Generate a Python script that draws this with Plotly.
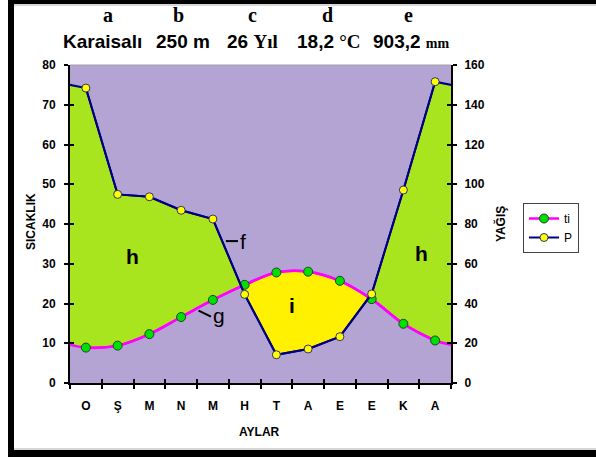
import plotly.graph_objects as go

# ---- data ----
months = ["O", "Ş", "M", "N", "M", "H", "T", "A", "E", "E", "K", "A"]
temp = [8.9, 9.4, 12.3, 16.6, 20.9, 24.7, 27.8, 28.0, 25.7, 21.1, 14.9, 10.7]
precip = [148.4, 94.9, 93.7, 86.9, 82.5, 44.6, 14.2, 17.1, 23.3, 44.8, 97.1, 151.6]
header_letters = ["a", "b", "c", "d", "e"]
station = "Karaisalı"
elevation = "250"
years = "26"
mean_temp = "18,2"
total_precip = "903,2"

PURPLE = "#B3A4D4"
GREEN = "#A9E51F"
YELLOW = "#FFF100"
MAGENTA = "#FF00FF"
NAVY = "#000080"

n = len(months)
xs = list(range(n))
# wrap around (climate year is cyclic)
xw = [-1] + xs + [n]
tw = [temp[-1]] + temp + [temp[0]]
pw = [precip[-1]] + precip + [precip[0]]
ph = [p / 2 for p in pw]  # precipitation on temperature scale


def crossings(x, a, b):
    out = []
    for i in range(len(x) - 1):
        d0 = a[i] - b[i]
        d1 = a[i + 1] - b[i + 1]
        if d0 * d1 < 0:
            t = d0 / (d0 - d1)
            out.append((x[i] + t * (x[i + 1] - x[i]),
                        b[i] + t * (b[i + 1] - b[i]),
                        a[i] + t * (a[i + 1] - a[i]), i))
    return out


cr = crossings(xw, ph, tw)
# dry period segment (temperature above precipitation/2)
c1, c2 = cr[0], cr[1]
seg_idx = list(range(c1[3] + 1, c2[3] + 1))
seg_x = [c1[0]] + [xw[i] for i in seg_idx] + [c2[0]]
seg_t = [c1[1]] + [tw[i] for i in seg_idx] + [c2[1]]
seg_p = [c1[2]] + [ph[i] for i in seg_idx] + [c2[2]]

fig = go.Figure()
# humid fill (green) between temperature and precipitation
fig.add_trace(go.Scatter(x=xw, y=tw, mode="lines", line=dict(width=0, shape="spline", smoothing=1),
                         showlegend=False, hoverinfo="skip"))
fig.add_trace(go.Scatter(x=xw, y=ph, mode="lines", line=dict(width=0), fill="tonexty",
                         fillcolor=GREEN, showlegend=False, hoverinfo="skip"))
# dry fill (yellow)
fig.add_trace(go.Scatter(x=seg_x, y=seg_t, mode="lines", line=dict(width=0, shape="spline", smoothing=1),
                         showlegend=False, hoverinfo="skip"))
fig.add_trace(go.Scatter(x=seg_x, y=seg_p, mode="lines", line=dict(width=0), fill="tonexty",
                         fillcolor=YELLOW, showlegend=False, hoverinfo="skip"))
# temperature line
fig.add_trace(go.Scatter(x=xw, y=tw, mode="lines", line=dict(color=MAGENTA, width=2.5, shape="spline", smoothing=1),
                         showlegend=False, hoverinfo="skip"))
fig.add_trace(go.Scatter(x=xs, y=temp, mode="lines+markers", name="ti",
                         line=dict(color=MAGENTA, width=2.5, shape="spline", smoothing=1),
                         marker=dict(color="#00E000", size=9, line=dict(color="#224422", width=1))))
# precipitation line on right axis
fig.add_trace(go.Scatter(x=xw, y=pw, mode="lines", yaxis="y2", line=dict(color=NAVY, width=2),
                         showlegend=False, hoverinfo="skip"))
fig.add_trace(go.Scatter(x=xs, y=precip, mode="lines+markers", name="P", yaxis="y2",
                         line=dict(color=NAVY, width=2),
                         marker=dict(color="#FFFF00", size=8, line=dict(color="#333366", width=1))))
# dummy traces to activate overlay axes
for xa, ya in [("x2", "y"), ("x3", "y"), ("x", "y3"), ("x", "y4")]:
    fig.add_trace(go.Scatter(x=[None], y=[None], xaxis=xa, yaxis=ya, showlegend=False, hoverinfo="skip"))

bounds = [i - 0.5 for i in range(n + 1)]
xr = [-0.5, n - 0.5]
boldfont = dict(family="Liberation Sans, Arial", size=12, color="#000000", weight="bold")

fig.update_layout(
    width=596, height=457,
    margin=dict(l=70, r=145, t=65, b=74, pad=0),
    paper_bgcolor="white", plot_bgcolor=PURPLE,
    showlegend=True,
    legend=dict(x=(523 - 70) / 381, y=(383 - 203) / 318, xanchor="left", yanchor="top",
                bgcolor="white", bordercolor="#444444", borderwidth=1, traceorder="normal",
                font=dict(family="Liberation Sans, Arial", size=12, color="#000"),
                itemwidth=30, tracegroupgap=0),
    xaxis=dict(range=xr, tickmode="array", tickvals=bounds, showticklabels=False,
               ticks="outside", ticklen=4, tickwidth=2, tickcolor="black",
               showline=True, linecolor="black", linewidth=2, showgrid=False, zeroline=False,
               automargin=False),
    xaxis2=dict(range=xr, overlaying="x", anchor="y", side="bottom", tickmode="array",
                tickvals=xs, ticktext=months, ticks="outside", ticklen=12, tickcolor="rgba(0,0,0,0)",
                tickfont=boldfont, showline=False, showgrid=False, zeroline=False, automargin=False),
    xaxis3=dict(range=xr, overlaying="x", anchor="y", side="bottom", tickmode="array",
                tickvals=bounds, showticklabels=False, ticks="inside", ticklen=4, tickwidth=2,
                tickcolor="black", showline=False, showgrid=False, zeroline=False, automargin=False),
    yaxis=dict(range=[0, 80], dtick=10, tick0=0, ticks="outside", ticklen=4, tickwidth=2, tickcolor="black",
               showline=True, linecolor="black", linewidth=2, showgrid=False, zeroline=False,
               tickfont=boldfont, ticklabelstandoff=6, automargin=False),
    yaxis3=dict(range=[0, 80], dtick=10, tick0=0, overlaying="y", side="left", anchor="x",
                ticks="inside", ticklen=4, tickwidth=2, tickcolor="black", showticklabels=False,
                showline=False, showgrid=False, zeroline=False, automargin=False),
    yaxis2=dict(range=[0, 160], dtick=20, tick0=0, overlaying="y", side="right", anchor="x",
                ticks="outside", ticklen=4, tickwidth=2, tickcolor="black",
                showline=True, linecolor="black", linewidth=2, showgrid=False, zeroline=False,
                tickfont=boldfont, ticklabelstandoff=5, automargin=False),
    yaxis4=dict(range=[0, 160], dtick=20, tick0=0, overlaying="y", side="right", anchor="x",
                ticks="inside", ticklen=4, tickwidth=2, tickcolor="black", showticklabels=False,
                showline=False, showgrid=False, zeroline=False, automargin=False),
)


def px2paper(px, py):
    return (px - 70) / 381, (383 - py) / 318


annotations = []
# header letters
for letter, cx in zip(header_letters, [107.6, 178.7, 252.8, 327, 408.7]):
    x, y = px2paper(cx, 15)
    annotations.append(dict(x=x, y=y, xref="paper", yref="paper", text="<b>%s</b>" % letter, showarrow=False,
                            font=dict(family="Liberation Serif, Times New Roman", size=20, color="black"),
                            xanchor="center", yanchor="middle"))
SERIF = "font-family:'Liberation Serif'"
header_row = [
    (102.6, "<b>%s</b>" % station),
    (182.5, "<b>%s m</b>" % elevation),
    (252, "<b>%s <span style=\"%s\">Yıl</span></b>" % (years, SERIF)),
    (329, "<b>%s <span style=\"%s\">°C</span></b>" % (mean_temp, SERIF)),
    (411, "<b>%s <span style=\"%s;font-size:14px\">mm</span></b>" % (total_precip, SERIF)),
]
for cx, txt in header_row:
    x, y = px2paper(cx, 41)
    annotations.append(dict(x=x, y=y, xref="paper", yref="paper", text=txt, showarrow=False,
                            font=dict(family="Liberation Sans, Arial", size=19, color="black"),
                            xanchor="center", yanchor="middle"))
# axis titles
x, y = px2paper(259, 432)
annotations.append(dict(x=x, y=y, xref="paper", yref="paper", text="<b>AYLAR</b>", showarrow=False,
                        font=dict(family="Liberation Sans, Arial", size=12, color="black"),
                        xanchor="center", yanchor="middle"))
x, y = px2paper(31, 222)
annotations.append(dict(x=x, y=y, xref="paper", yref="paper", text="<b>SICAKLIK</b>", showarrow=False,
                        textangle=-90, font=dict(family="Liberation Sans, Arial", size=12, color="black"),
                        xanchor="center", yanchor="middle"))
x, y = px2paper(500, 224)
annotations.append(dict(x=x, y=y, xref="paper", yref="paper", text="<b>YAĞIŞ</b>", showarrow=False,
                        textangle=-90, font=dict(family="Liberation Sans, Arial", size=12, color="black"),
                        xanchor="center", yanchor="middle"))
# region labels (data coordinates)
lab_font = dict(family="Liberation Sans, Arial", size=21, color="black")
for txt, lx, ly in [("<b>h</b>", 1.474, 31.9), ("<b>h</b>", 10.586, 32.7), ("<b>i</b>", 6.49, 19.6),
                    ("f", 4.948, 35.7), ("g", 4.19, 17.1)]:
    annotations.append(dict(x=lx, y=ly, xref="x", yref="y", text=txt, showarrow=False, font=lab_font,
                            xanchor="center", yanchor="middle"))
fig.update_layout(annotations=annotations)

shapes = [
    # leader lines
    dict(type="line", xref="x", yref="y", x0=4.41, y0=35.7, x1=4.79, y1=35.7, line=dict(color="black", width=2)),
    dict(type="line", xref="x", yref="y", x0=3.55, y0=18.2, x1=3.94, y1=16.7, line=dict(color="black", width=2)),
    # thin grey top line of plot area
    dict(type="line", xref="paper", yref="paper", x0=0, x1=1, y0=1, y1=1, line=dict(color="#A0A0A0", width=1)),
]
# black frame
for (xa, ya, xb, yb) in [(8, -10, 14, 467), (8, -10, 606, 4), (8, 450, 606, 467)]:
    x0, y0 = px2paper(xa, yb)
    x1, y1 = px2paper(xb, ya)
    shapes.append(dict(type="rect", xref="paper", yref="paper", x0=x0, y0=y0, x1=x1, y1=y1,
                       fillcolor="black", line=dict(width=0), layer="above"))
for py in [5, 449]:
    x0, y0 = px2paper(14, py)
    x1, _ = px2paper(596, py)
    shapes.append(dict(type="line", xref="paper", yref="paper", x0=x0, x1=x1, y0=y0, y1=y0,
                       line=dict(color="#B0B0B0", width=1)))
fig.update_layout(shapes=shapes)

fig.write_html("out.html", config={"displayModeBar": False},
               post_script="document.body.style.margin='0';document.body.style.padding='0';")
